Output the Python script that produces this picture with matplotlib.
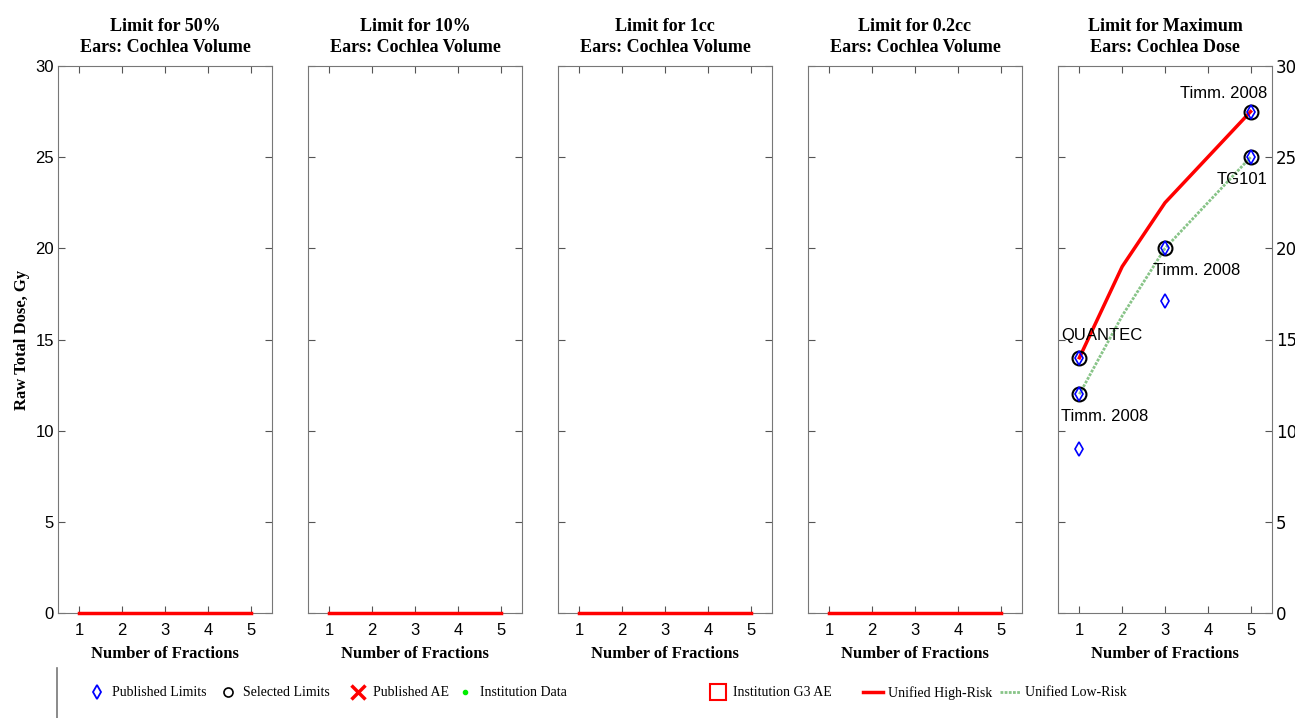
import numpy as np
import matplotlib
matplotlib.use("Agg")
import matplotlib.pyplot as plt
from matplotlib.lines import Line2D

# panel titles
titles = ["Limit for 50%\nEars: Cochlea Volume",
          "Limit for 10%\nEars: Cochlea Volume",
          "Limit for 1cc\nEars: Cochlea Volume",
          "Limit for 0.2cc\nEars: Cochlea Volume",
          "Limit for Maximum\nEars: Cochlea Dose"]

fractions = [1, 2, 3, 4, 5]
empty_line = [0, 0, 0, 0, 0]

# cochlea max dose data (last panel)
high_risk = [14, 19, 22.5, 25, 27.5]
low_risk = [12, 16.3, 20, 22.5, 25]
pub_x = [1, 1, 1, 3, 3, 5, 5]
pub_y = [14, 12, 9, 20, 17.1, 27.5, 25]
sel_x = [1, 1, 3, 5, 5]
sel_y = [14, 12, 20, 27.5, 25]
ann_text = ["Timm. 2008", "TG101", "Timm. 2008", "QUANTEC", "Timm. 2008"]
ann_x = [5, 5, 3, 1, 1]
ann_y = [27.5, 25, 20, 14, 12]
ann_dy = [1.0, -1.2, -1.2, 1.2, -1.2]

serif = "Liberation Serif"
sans = "Liberation Sans"

fig = plt.figure(figsize=(12.95, 7.18), dpi=100)
lefts = [58, 308, 558, 808, 1058]
axes = []
for i, l in enumerate(lefts):
    ax = fig.add_axes([l / 1295, 105 / 718, 214 / 1295, 547 / 718])
    axes.append(ax)
    ax.set_xlim(0.5, 5.5)
    ax.set_ylim(0, 30)
    ax.set_xticks(fractions)
    ax.set_yticks(np.arange(0, 31, 5))
    ax.tick_params(direction="in", top=True, right=True, length=5,
                   color="#555555", labelsize=12)
    ax.tick_params(axis="x", pad=7)
    ax.tick_params(axis="y", pad=3)
    for lab in ax.get_xticklabels() + ax.get_yticklabels():
        lab.set_fontfamily(sans)
    for s in ax.spines.values():
        s.set_color("#777777")
    ax.set_title(titles[i], fontfamily=serif, fontweight="bold", fontsize=13,
                 pad=10, linespacing=1.35)
    ax.set_xlabel("Number of Fractions", fontfamily=serif, fontweight="bold",
                  fontsize=12, labelpad=6)
    if i == 0:
        ax.set_ylabel("Raw Total Dose, Gy", fontfamily=serif, fontweight="bold", fontsize=12)
    elif i == 4:
        ax.yaxis.set_label_position("right")
        ax.tick_params(labelleft=False, labelright=True)
    else:
        ax.tick_params(labelleft=False)
    if i < 4:
        ax.plot(fractions, empty_line, color="#ff0000", lw=2.5, clip_on=False, zorder=3)

ax = axes[4]
ax.plot(fractions, high_risk, color="#ff0000", lw=2.5, zorder=2)
ax.plot(fractions, low_risk, color="#88c488", lw=2, ls=(0, (1, 0.5)), zorder=2)
ax.plot(sel_x, sel_y, "o", mfc="none", mec="black", ms=10, mew=1.5, zorder=3)
ax.plot(pub_x, pub_y, "d", mfc="none", mec="#0000ff", ms=7.5, mew=1.2, zorder=4)
for t, x, y, dy in zip(ann_text, ann_x, ann_y, ann_dy):
    ha = "left"
    xx = x - 0.42
    if x == 5:
        ha = "right"
        xx = x + 0.4
    if x == 3:
        xx = x - 0.28
    ax.text(xx, y + dy, t, fontfamily=sans, fontsize=12, ha=ha, va="center")

handles = [
    Line2D([], [], marker="d", ls="none", mfc="none", mec="#0000ff", ms=7, mew=1.3),
    Line2D([], [], marker="o", ls="none", mfc="none", mec="black", ms=6.5, mew=1.2),
    Line2D([], [], marker="x", ls="none", color="#ff0000", ms=10, mew=2.5),
    Line2D([], [], marker=".", ls="none", color="#00ee00", ms=6),
    Line2D([], [], marker="s", ls="none", mfc="none", mec="#ff0000", ms=12, mew=1.5),
    Line2D([], [], color="#ff0000", lw=2.5),
    Line2D([], [], color="#88c488", lw=2, ls=(0, (1, 0.5))),
]
labels = ["Published Limits", "Selected Limits", "Published AE", "Institution Data",
          "Institution G3 AE", "Unified High-Risk", "Unified Low-Risk"]
# x position (pixels) of each legend marker centre
leg_x = [97, 228, 358, 465, 718, 873, 1010]
for h, lab, lx in zip(handles, labels, leg_x):
    fig.legend([h], [lab], loc="center left",
               bbox_to_anchor=((lx - 10.4) / 1295, 1 - 693 / 718),
               frameon=False, prop={"family": serif, "size": 10},
               handlelength=1.5, handletextpad=0.3, borderpad=0, borderaxespad=0)

fig.add_artist(Line2D([57 / 1295, 57 / 1295], [0, 50 / 718], color="#777777", lw=1.2))

fig.savefig("out.png", dpi=100)
